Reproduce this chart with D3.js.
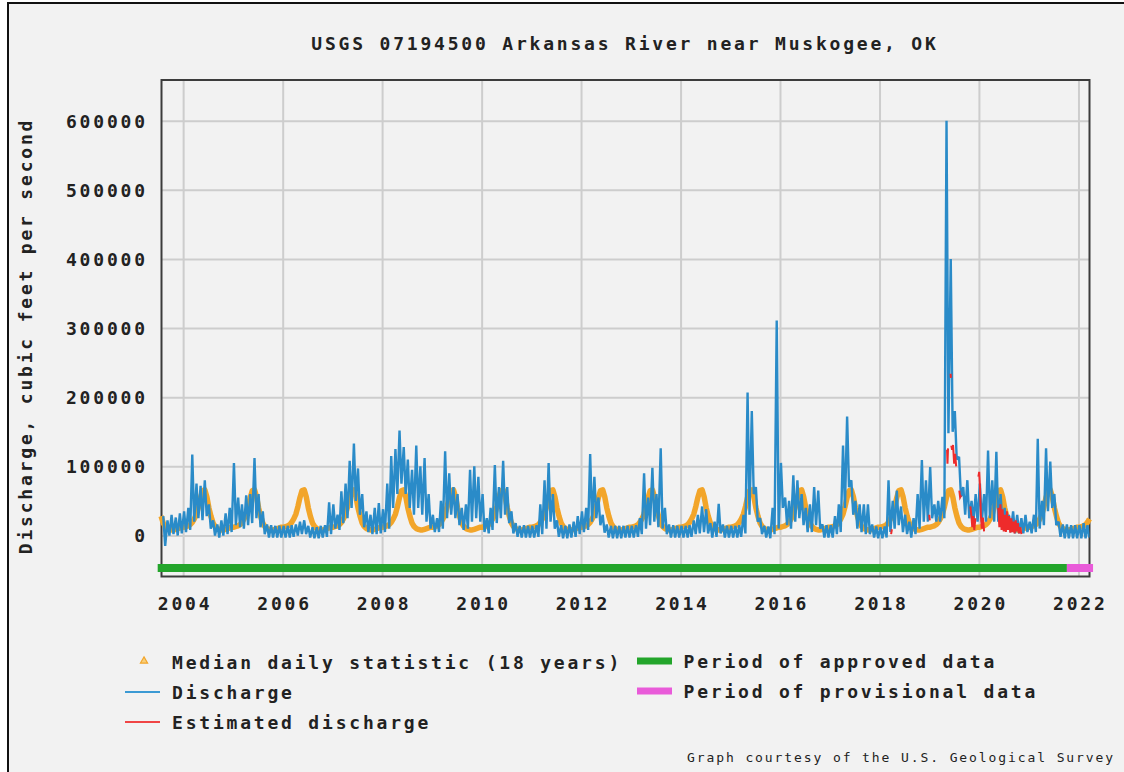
<!DOCTYPE html>
<html>
<head>
<meta charset="utf-8">
<script src="https://cdn.jsdelivr.net/npm/d3@7"></script>
<style>
body { margin: 0; background: #fff; }
svg { display: block; }
text { font-family: "DejaVu Sans Mono", monospace; font-weight: bold; font-size: 18px; letter-spacing: 2.8px; fill: #222; }
text.note { font-weight: normal; font-size: 13px; letter-spacing: 1.9px; }
</style>
</head>
<body>
<svg width="1124" height="772"></svg>
<script>

var title = "USGS 07194500 Arkansas River near Muskogee, OK";
var yTitle = "Discharge, cubic feet per second";
var yTicks = [0, 100000, 200000, 300000, 400000, 500000, 600000];
var xTickYears = [2004, 2006, 2008, 2010, 2012, 2014, 2016, 2018, 2020, 2022];

// monthly high / low of the daily discharge, thousand cfs, from Aug 2003
var firstYear = 2003, firstMonth = 8;
var dischargeHigh = [
  /*2003*/ 28, 22, 30, 26, 32,
  /*2004*/ 35, 40, 117, 75, 72, 80, 45, 22, 16, 22, 32, 40,
  /*2005*/ 105, 55, 45, 58, 60, 112, 60, 35, 16, 15, 14, 14,
  /*2006*/ 14, 14, 15, 16, 20, 22, 14, 12, 12, 14, 15, 48,
  /*2007*/ 45, 30, 64, 75, 108, 133, 97, 60, 35, 30, 40, 47,
  /*2008*/ 38, 75, 115, 125, 152, 128, 110, 95, 130, 100, 112, 60,
  /*2009*/ 30, 25, 50, 122, 90, 70, 60, 40, 45, 95, 100, 85,
  /*2010*/ 60, 25, 40, 102, 70, 108, 70, 35, 18, 14, 15, 14,
  /*2011*/ 14, 15, 45, 80, 105, 60, 22, 15, 14, 16, 20, 28,
  /*2012*/ 35, 40, 118, 85, 55, 30, 16, 14, 14, 14, 14, 14,
  /*2013*/ 14, 15, 25, 90, 55, 98, 60, 126, 40, 16, 15, 14,
  /*2014*/ 14, 14, 15, 22, 30, 42, 38, 18, 20, 46, 16, 14,
  /*2015*/ 14, 14, 15, 30, 207, 180, 70, 25, 14, 13, 40, 311,
  /*2016*/ 105, 55, 50, 87, 80, 60, 40, 45, 70, 65, 16, 15,
  /*2017*/ 15, 28, 45, 130, 172, 80, 50, 45, 45, 45, 16, 13,
  /*2018*/ 12, 13, 80, 50, 65, 42, 30, 20, 25, 60, 109, 80,
  /*2019*/ 99, 45, 50, 56, 600, 400, 180, 114, 70, 80, 50, 60,
  /*2020*/ 75, 60, 123, 80, 121, 60, 40, 30, 35, 30, 25, 30,
  /*2021*/ 20, 30, 140, 50, 126, 107, 60, 20, 16, 16, 15, 15,
  /*2022*/ 15, 18, 15
];
var dischargeLow = [
  /*2003*/ -15, 0, 2, 0, 3,
  /*2004*/ 5, 8, 20, 25, 22, 28, 10, 0, -3, 0, 2, 5,
  /*2005*/ 15, 12, 10, 15, 18, 25, 12, 2, -3, -3, -3, -3,
  /*2006*/ -3, -3, -2, 0, 2, 2, -3, -4, -4, -3, -2, 2,
  /*2007*/ 10, 8, 18, 25, 40, 50, 30, 12, 5, 2, 2, 3,
  /*2008*/ 5, 10, 40, 60, 75, 60, 40, 30, 40, 30, 20, 10,
  /*2009*/ 5, 5, 10, 25, 30, 25, 15, 8, 10, 20, 25, 20,
  /*2010*/ 5, 3, 8, 18, 25, 30, 18, 3, -2, -3, -3, -3,
  /*2011*/ -3, -2, 2, 10, 20, 10, -2, -4, -4, -3, -2, 2,
  /*2012*/ 5, 8, 20, 25, 15, 4, -3, -4, -4, -4, -3, -3,
  /*2013*/ -3, -2, 2, 10, 15, 20, 12, 10, 2, -3, -3, -3,
  /*2014*/ -3, -3, -2, 2, 3, 5, 3, -3, -2, 3, -3, -3,
  /*2015*/ -3, -3, -2, 3, 30, 60, 20, 2, -3, -4, 2, 10,
  /*2016*/ 40, 15, 10, 20, 25, 15, 5, 5, 15, 10, -3, -3,
  /*2017*/ -3, 2, 5, 40, 70, 30, 10, 5, 2, 2, -3, -4,
  /*2018*/ -4, -3, 5, 10, 15, 5, 2, -3, 2, 10, 20, 20,
  /*2019*/ 25, 20, 20, 25, 148, 150, 110, 56, 30, 25, 20, 20,
  /*2020*/ 20, 20, 25, 20, 20, 15, 10, 5, 3, 3, 3, 5,
  /*2021*/ 3, 5, 10, 15, 35, 40, 15, -2, -4, -4, -4, -4,
  /*2022*/ -4, -4, -3
];

// median daily statistic, thousand cfs, two values per calendar month (Jan..Dec)
var medianHalfMonth = [12, 13, 14, 16, 19, 24, 31, 42, 55, 65, 66, 56,
                       40, 28, 18, 13, 10, 9, 8, 8, 9, 10, 11, 12];
var medianStart = "2003-07-20", medianEnd = "2022-04-05";

// estimated discharge, thousand cfs, null breaks the line
var estimatedDates = [
  "2018-03-27", "2018-04-02", null,
  "2019-01-01", "2019-01-05", null,
  "2019-05-12", "2019-05-15", "2019-05-19", null,
  "2019-06-07", "2019-06-09", null,
  "2019-06-12", "2019-06-18", "2019-06-25", "2019-07-03", "2019-07-10", "2019-07-18", null,
  "2019-08-10", "2019-08-16", "2019-08-24", null,
  "2019-10-30", "2019-11-06", "2019-11-13", "2019-11-20", "2019-11-28", "2019-12-06", null,
  "2019-12-28", "2020-01-03", "2020-01-09", "2020-01-15", "2020-01-22", "2020-01-30", "2020-02-08", null,
  "2020-05-22", "2020-05-30", "2020-06-07", "2020-06-15", "2020-06-23", "2020-07-01", "2020-07-09",
  "2020-07-17", "2020-07-25", "2020-08-02", "2020-08-10", "2020-08-18", "2020-08-26", "2020-09-03",
  "2020-09-11", "2020-09-19", "2020-09-27", "2020-10-05", "2020-10-13", "2020-10-21", "2020-10-30", "2020-11-08"
];
var estimatedFlow = [
  2, 9, null,
  30, 22, null,
  124, 104, 126, null,
  234, 228, null,
  130, 124, 131, 104, 118, 100, null,
  65, 55, 58, null,
  42, 30, 12, 28, 8, 25, null,
  85, 92, 70, 30, 10, 26, 6, null,
  40, 12, 45, 8, 38, 6, 30,
  5, 35, 8, 28, 4, 25, 5,
  20, 3, 22, 6, 18, 3, 12, 2
];

var approvedPeriod = ["2003-06-28", "2021-10-08"];
var provisionalPeriod = ["2021-10-08", "2022-04-18"];

var legendLeft = [
  {label: "Median daily statistic (18 years)", type: "marker", color: "#f2a52a"},
  {label: "Discharge", type: "line", color: "#3c9ad4"},
  {label: "Estimated discharge", type: "line", color: "#f04545"}
];
var legendRight = [
  {label: "Period of approved data", color: "#23a52b"},
  {label: "Period of provisional data", color: "#e95bd9"}
];

var parseDate = d3.timeParse("%Y-%m-%d");

var svg = d3.select("svg");
var plot = {left: 161.5, right: 1089.5, top: 80, bottom: 576.5};

var x = d3.scaleTime()
    .domain([new Date(2003, 6, 26), new Date(2022, 2, 23)])
    .range([plot.left, plot.right]);

var y = d3.scaleLinear()
    .domain([-59300, 658900])
    .range([plot.bottom, plot.top]);

// build the series
var dischargePoints = [];
dischargeHigh.forEach(function(hi, k) {
    var m = firstMonth - 1 + k,
        yr = firstYear + Math.floor(m / 12);
    m = m % 12;
    dischargePoints.push({date: new Date(yr, m, 8), value: hi * 1000});
    dischargePoints.push({date: new Date(yr, m, 22), value: dischargeLow[k] * 1000});
});

var mStart = parseDate(medianStart), mEnd = parseDate(medianEnd);
var medianPoints = [];
for (var yr = 2003; yr <= 2022; yr++) {
    medianHalfMonth.forEach(function(v, h) {
        var d = new Date(yr, Math.floor(h / 2), h % 2 ? 23 : 8);
        if (d >= mStart && d <= mEnd) medianPoints.push({date: d, value: v * 1000});
    });
}

var estimatedPoints = estimatedDates.map(function(d, i) {
    return d === null ? null : {date: parseDate(d), value: estimatedFlow[i] * 1000};
});

// background and outer frame
svg.append("rect").attr("width", 1124).attr("height", 772).attr("fill", "#fff");
svg.append("rect")
    .attr("x", 8).attr("y", 3).attr("width", 1130).attr("height", 790)
    .attr("fill", "#f2f2f2").attr("stroke", "#111").attr("stroke-width", 2);

svg.append("text")
    .attr("x", 625).attr("y", 50)
    .attr("text-anchor", "middle")
    .text(title);

svg.append("text")
    .attr("transform", "translate(32,336) rotate(-90)")
    .attr("text-anchor", "middle")
    .text(yTitle);

// grid + tick labels
var gy = svg.append("g")
    .attr("transform", "translate(" + plot.left + ",0)")
    .call(d3.axisLeft(y)
        .tickValues(yTicks)
        .tickSize(-(plot.right - plot.left))
        .tickPadding(13.7)
        .tickFormat(d3.format("d")));
gy.select(".domain").remove();
gy.selectAll("line").attr("stroke", "#cdcdcd").attr("stroke-width", 2);
gy.selectAll("text").attr("dy", "0.36em");

var gx = svg.append("g")
    .attr("transform", "translate(0," + plot.bottom + ")")
    .call(d3.axisBottom(x)
        .tickValues(xTickYears.map(function(yv) { return new Date(yv, 0, 1); }))
        .tickSize(-(plot.bottom - plot.top))
        .tickPadding(20.7)
        .tickFormat(d3.timeFormat("%Y")));
gx.select(".domain").remove();
gx.selectAll("line").attr("stroke", "#cdcdcd").attr("stroke-width", 2);
gx.selectAll("text").attr("dx", "1.4");

svg.append("rect")
    .attr("x", plot.left).attr("y", plot.top)
    .attr("width", plot.right - plot.left).attr("height", plot.bottom - plot.top)
    .attr("fill", "none").attr("stroke", "#3c3c3c").attr("stroke-width", 2);

svg.append("defs").append("clipPath")
    .attr("id", "clip")
    .append("rect")
    .attr("x", plot.left).attr("y", plot.top)
    .attr("width", plot.right - plot.left).attr("height", plot.bottom - plot.top);

var line = d3.line()
    .defined(function(d) { return d !== null; })
    .x(function(d) { return x(d.date); })
    .y(function(d) { return y(d.value); });

// median daily statistic
svg.append("path")
    .datum(medianPoints)
    .attr("d", line)
    .attr("fill", "none")
    .attr("stroke", "#f2a52a")
    .attr("stroke-width", 5.5)
    .attr("stroke-linejoin", "round");

var data = svg.append("g").attr("clip-path", "url(#clip)");

data.append("path")
    .datum(dischargePoints)
    .attr("d", line)
    .attr("fill", "none")
    .attr("stroke", "#2a8bc8")
    .attr("stroke-width", 2.4)
    .attr("stroke-linejoin", "bevel");

data.append("path")
    .datum(estimatedPoints)
    .attr("d", line)
    .attr("fill", "none")
    .attr("stroke", "#ee2b2b")
    .attr("stroke-width", 2);

// data approval bar
[[approvedPeriod, legendRight[0].color], [provisionalPeriod, legendRight[1].color]].forEach(function(p) {
    svg.append("rect")
        .attr("x", x(parseDate(p[0][0])))
        .attr("y", 564)
        .attr("width", x(parseDate(p[0][1])) - x(parseDate(p[0][0])))
        .attr("height", 8)
        .attr("fill", p[1]);
});

// legend
legendLeft.forEach(function(d, i) {
    var cy = 662 + i * 30;
    if (d.type === "marker") {
        svg.append("path")
            .attr("d", d3.symbol().type(d3.symbolTriangle).size(22))
            .attr("transform", "translate(144," + (cy - 1) + ")")
            .attr("fill", "#f8cf7a").attr("stroke", d.color).attr("stroke-width", 1.2);
    } else {
        svg.append("line")
            .attr("x1", 125).attr("x2", 160).attr("y1", cy).attr("y2", cy)
            .attr("stroke", d.color).attr("stroke-width", 2);
    }
    svg.append("text").attr("x", 172).attr("y", cy + 6.5).text(d.label);
});

legendRight.forEach(function(d, i) {
    var cy = 661 + i * 30;
    svg.append("rect")
        .attr("x", 637).attr("y", cy - 3.5).attr("width", 35).attr("height", 7)
        .attr("fill", d.color);
    svg.append("text").attr("x", 683.5).attr("y", cy + 7).text(d.label);
});

svg.append("text")
    .attr("class", "note")
    .attr("x", 1115).attr("y", 762)
    .attr("text-anchor", "end")
    .text("Graph courtesy of the U.S. Geological Survey");

</script>
</body>
</html>
